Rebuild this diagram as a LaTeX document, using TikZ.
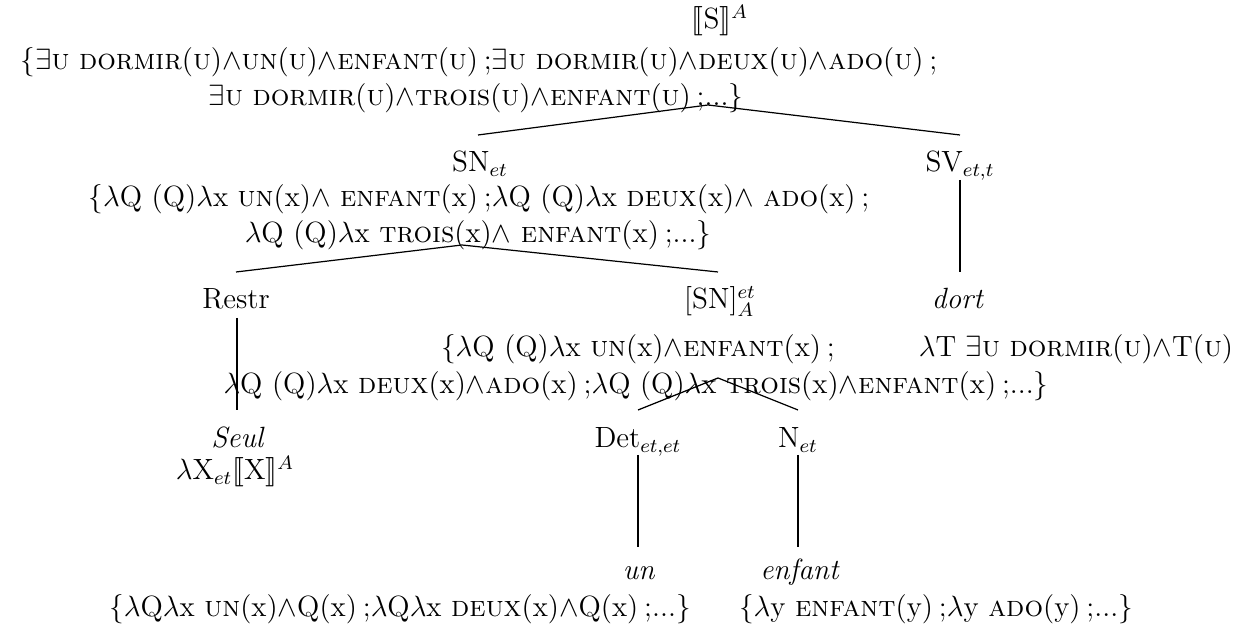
\documentclass[tikz,border=0pt]{standalone}
\usepackage{amssymb}
\usepackage{stmaryrd}
\newcommand{\smc}[1]{\textsc{#1}}
\newcommand{\W}{$\wedge$}
\newcommand{\lam}{$\lambda$}
\newcommand{\sep}{\hspace{0.2em};}
\begin{document}
\begin{tikzpicture}[x=0.41pt,y=-0.41pt,
  every node/.style={inner sep=0pt, font=\fontsize{12}{14.5}\selectfont, anchor=base},
  branch/.style={line width=0.5pt}]
\useasboundingbox (0,0) rectangle (1246,632);
% S level
\node (S) at (720,29) {$\llbracket\mathrm{S}\rrbracket^{A}$};
\node (Ssemone) at (479,70) {$\{\exists$\smc{u} \smc{dormir}(\smc{u})\W\smc{un}(\smc{u})\W\smc{enfant}(\smc{u})\sep$\exists$\smc{u} \smc{dormir}(\smc{u})\W\smc{deux}(\smc{u})\W\smc{ado}(\smc{u})\sep};
\node (Ssemtwo) at (476,106) {$\exists$\smc{u} \smc{dormir}(\smc{u})\W\smc{trois}(\smc{u})\W\smc{enfant}(\smc{u})\sep...$\}$};
% SN / SV level
\node (SN) at (480,172) {SN$_{et}$};
\node (SV) at (960,172) {SV$_{et,t}$};
\node (SNsemone) at (479,207) {$\{$\lam Q (Q)\lam x \smc{un}(x)\W\ \smc{enfant}(x)\sep\lam Q (Q)\lam x \smc{deux}(x)\W\ \smc{ado}(x)\sep};
\node (SNsemtwo) at (478,243) {\lam Q (Q)\lam x \smc{trois}(x)\W\ \smc{enfant}(x)\sep...$\}$};
% Restr / [SN] / dort level
\node (Restr) at (236,309) {Restr};
\node (SNA) at (720,309) {[SN]$^{et}_{A}$};
\node (dort) at (958,309) {\textit{dort}};
\node (SNAsemone) at (638,357) {$\{$\lam Q (Q)\lam x \smc{un}(x)\W\smc{enfant}(x)\sep};
\node (dortsem) at (1076,357) {\lam T $\exists$\smc{u} \smc{dormir}(\smc{u})\W T(\smc{u})};
\node (SNAsemtwo) at (636,394) {\lam Q (Q)\lam x \smc{deux}(x)\W\smc{ado}(x)\sep\lam Q (Q)\lam x \smc{trois}(x)\W\smc{enfant}(x)\sep...$\}$};
% Seul / Det / N level
\node (Seul) at (238,448) {\textit{Seul}};
\node (Seulsem) at (235,480) {\lam X$_{et}\llbracket$X$\rrbracket^{A}$};
\node (Det) at (638,448) {Det$_{et,et}$};
\node (N) at (798,448) {N$_{et}$};
% leaves
\node (un) at (639,580) {\textit{un}};
\node (enfant) at (800,580) {\textit{enfant}};
\node (unsem) at (400,617) {$\{$\lam Q\lam x \smc{un}(x)\W Q(x)\sep\lam Q\lam x \smc{deux}(x)\W Q(x)\sep...$\}$};
\node (enfantsem) at (936,617) {$\{$\lam y \smc{enfant}(y)\sep\lam y \smc{ado}(y)\sep...$\}$};
% connector points
\coordinate (Sapex) at (708,105);
\coordinate (SNtop) at (478,135);
\coordinate (SVtop) at (960,135);
\coordinate (SVbot) at (960,180);
\coordinate (dorttop) at (960,272);
\coordinate (SNapex) at (462,245);
\coordinate (Restrtop) at (236,272);
\coordinate (SNAtop) at (718,272);
\coordinate (Restrbot) at (237,318);
\coordinate (Seultop) at (237,410);
\coordinate (SNAapex) at (718,378);
\coordinate (Dettop) at (638,410);
\coordinate (Ntop) at (798,410);
\coordinate (Detbot) at (638,455);
\coordinate (untop) at (638,547);
\coordinate (Nbot) at (798,455);
\coordinate (enfanttop) at (798,547);
% connectors
\draw[branch] (SNtop) -- (Sapex) -- (SVtop);
\draw[branch] (SVbot) -- (dorttop);
\draw[branch] (Restrtop) -- (SNapex) -- (SNAtop);
\draw[branch] (Restrbot) -- (Seultop);
\draw[branch] (Dettop) -- (SNAapex) -- (Ntop);
\draw[branch] (Detbot) -- (untop);
\draw[branch] (Nbot) -- (enfanttop);
\end{tikzpicture}
\end{document}
